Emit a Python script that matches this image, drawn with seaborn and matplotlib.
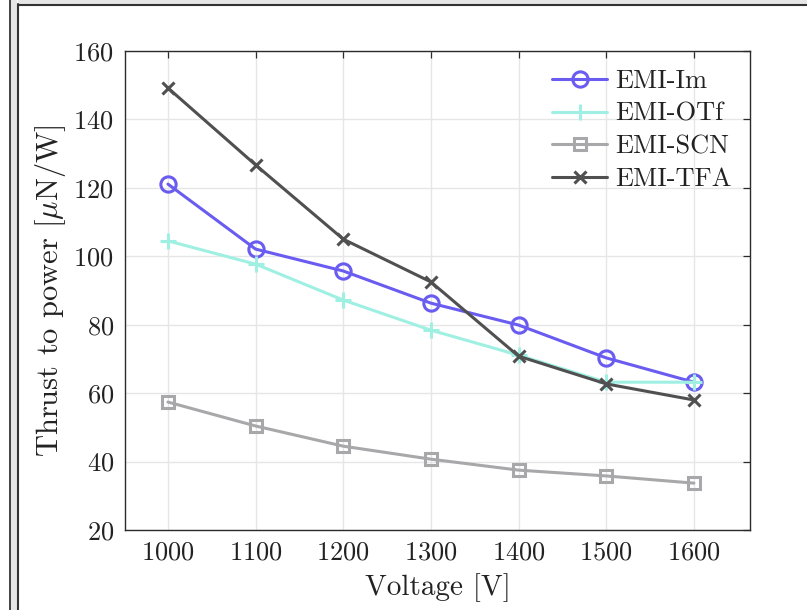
import matplotlib
matplotlib.use("Agg")
import matplotlib.pyplot as plt
from matplotlib.lines import Line2D
from matplotlib.patches import Rectangle
import seaborn as sns
import pandas as pd

# Thrust-to-power ratio of four ionic liquids versus emitter voltage
voltage = [1000, 1100, 1200, 1300, 1400, 1500, 1600]
emi_im = [121.1, 102.1, 95.7, 86.3, 79.9, 70.3, 63.2]
emi_otf = [104.5, 97.7, 87.2, 78.4, 71.1, 63.2, 63.2]
emi_scn = [57.4, 50.4, 44.5, 40.7, 37.5, 35.8, 33.7]
emi_tfa = [149.2, 126.7, 105.0, 92.5, 70.8, 62.7, 58.0]

series_names = ["EMI-Im", "EMI-OTf", "EMI-SCN", "EMI-TFA"]
series_values = [emi_im, emi_otf, emi_scn, emi_tfa]
colors = ["#6a5cf0", "#9ff0e2", "#a8a8aa", "#505050"]
markers = ["o", "+", "s", "x"]
marker_sizes = [11, 12, 8, 9]

sns.set_theme(style="white")
plt.rcParams["font.family"] = ["cmr10", "DejaVu Serif"]
plt.rcParams["mathtext.fontset"] = "cm"
plt.rcParams["axes.formatter.use_mathtext"] = True

fig = plt.figure(figsize=(8.07, 6.10), dpi=100)
ax = fig.add_axes([125 / 807, 1 - 530 / 610, 625 / 807, 479 / 610])

for name, vals, c, m, ms in zip(series_names, series_values, colors, markers, marker_sizes):
    df = pd.DataFrame({"Voltage": voltage, "T2P": vals})
    sns.lineplot(data=df, x="Voltage", y="T2P", ax=ax, color=c, marker=m,
                 markersize=ms, markerfacecolor="none", markeredgecolor=c,
                 markeredgewidth=2.2, linewidth=2.2, label=name)

ax.set_xlim(951, 1664)
ax.set_ylim(20, 160)
ax.set_xticks(voltage)
ax.set_yticks(range(20, 161, 20))
ax.grid(True, color="#e6e6e6", linewidth=1.0)
ax.set_axisbelow(True)
for sp in ax.spines.values():
    sp.set_color("#2b2b2b")
    sp.set_linewidth(1.0)
ax.tick_params(direction="in", length=5, width=0.9, color="#2b2b2b",
               top=True, right=True, labelsize=19, labelcolor="#222222", pad=8)

ax.set_xlabel("Voltage [V]", fontsize=21, color="#222222", labelpad=6)
ax.set_ylabel(r"Thrust to power [$\mu$N/W]", fontsize=22, color="#222222", labelpad=4)

leg = ax.legend(loc="upper right", frameon=False, fontsize=19, handlelength=2.1,
                handletextpad=0.3, borderaxespad=0.3, labelspacing=0.34,
                bbox_to_anchor=(1.0, 1.0))
for t in leg.get_texts():
    t.set_color("#222222")

# window frame around the figure
W, H = 807, 610
fig.add_artist(Rectangle((11 / W, 0), 6 / W, 1, transform=fig.transFigure,
                         facecolor="#e6e6e6", edgecolor="none"))
fig.add_artist(Rectangle((18 / W, 1 - 4 / H), 1 - 18 / W, 4 / H,
                         transform=fig.transFigure, facecolor="#e6e6e6", edgecolor="none"))
fig.add_artist(Line2D([10 / W, 10 / W], [0, 1], transform=fig.transFigure,
                      color="#333333", linewidth=1.3))
fig.add_artist(Line2D([18 / W, 18 / W], [0, 1 - 4 / H], transform=fig.transFigure,
                      color="#333333", linewidth=1.5))
fig.add_artist(Line2D([18 / W, 1], [1 - 4.5 / H, 1 - 4.5 / H], transform=fig.transFigure,
                      color="#333333", linewidth=1.5))

fig.savefig("out.png", dpi=100)
